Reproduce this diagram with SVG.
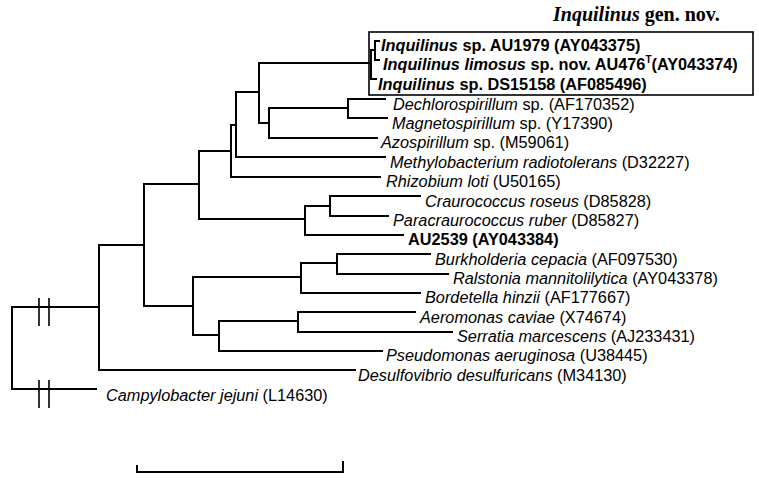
<svg xmlns="http://www.w3.org/2000/svg" width="759" height="483" viewBox="0 0 759 483">
<style>
.br{fill:none;stroke:#000;stroke-width:2;stroke-linecap:square}
.hs{fill:none;stroke:#000;stroke-width:1.6}
.t{font-family:"Liberation Sans",Arial,sans-serif;font-size:16.3px;fill:#000}
.b{font-weight:bold}
.i{font-style:italic}
.ttl{font-family:"Liberation Serif","Times New Roman",serif;font-size:20px;font-weight:bold;fill:#000}
</style>
<rect width="759" height="483" fill="#fff"/>
<g id="title"><text class="ttl" x="553" y="21"><tspan font-style="italic">Inquilinus</tspan> gen. nov.</text></g>
<g id="inquilinus-box"><rect x="369" y="32" width="384" height="63" fill="none" stroke="#000" stroke-width="1.6"/></g>
<g id="connectors">
<path class="br" d="M12,307V389M12,307H99M12,389H96
M99,245V370M99,370H355M99,245H144
M144,184V306M144,184H199M144,306H193
M199,151V219M199,151H231M199,219H305
M231,125V177M231,125H236M231,177H380
M236,92V157M236,92H259M236,157H385
M259,63V123M259,63H371M259,123H269
M269,108V138M269,108H348M269,138H377
M348,99V118M348,99H385M348,118H387
M371,50V79M371,79H376M371,50H375
M375,41V60M375,41H379M375,60H379
M305,206V235M305,206H330M305,235H403
M330,196V216M330,196H420M330,216H388
M193,277V335M193,277H301M193,335H219
M301,263V293M301,263H337M301,293H420
M337,254V274M337,254H430M337,274H448
M219,321V351M219,321H298M219,351H382
M298,312V332M298,312H415M298,332H452"/>
<path class="hs" d="M39,298V326M49,298V326M39,380V408M49,380V408"/>
</g>
<g id="n1"><text class="t b" x="381" y="51"><tspan class="i">Inquilinus</tspan> sp. AU1979 (AY043375)</text></g>
<g id="n2"><text class="t b" x="383" y="70"><tspan class="i">Inquilinus limosus</tspan> sp. nov. AU476<tspan font-size="10" dy="-7">T</tspan><tspan dy="7">(AY043374)</tspan></text></g>
<g id="n3"><text class="t b" x="378" y="90"><tspan class="i">Inquilinus</tspan> sp. DS15158 (AF085496)</text></g>
<g id="n4"><text class="t" x="393" y="110"><tspan class="i">Dechlorospirillum</tspan> sp. (AF170352)</text></g>
<g id="n5"><text class="t" x="392" y="129"><tspan class="i">Magnetospirillum</tspan> sp. (Y17390)</text></g>
<g id="n6"><text class="t" x="381" y="148"><tspan class="i">Azospirillum</tspan> sp. (M59061)</text></g>
<g id="n7"><text class="t" x="390" y="168"><tspan class="i">Methylobacterium radiotolerans</tspan> (D32227)</text></g>
<g id="n8"><text class="t" x="386" y="187"><tspan class="i">Rhizobium loti</tspan> (U50165)</text></g>
<g id="n9"><text class="t" x="425" y="207"><tspan class="i">Craurococcus roseus</tspan> (D85828)</text></g>
<g id="n10"><text class="t" x="393" y="226"><tspan class="i">Paracraurococcus ruber</tspan> (D85827)</text></g>
<g id="n11"><text class="t b" x="408" y="245">AU2539 (AY043384)</text></g>
<g id="n12"><text class="t" x="435" y="265"><tspan class="i">Burkholderia cepacia</tspan> (AF097530)</text></g>
<g id="n13"><text class="t" x="453" y="284"><tspan class="i">Ralstonia mannitolilytica</tspan> (AY043378)</text></g>
<g id="n14"><text class="t" x="425" y="303"><tspan class="i">Bordetella hinzii</tspan> (AF177667)</text></g>
<g id="n15"><text class="t" x="420" y="323"><tspan class="i">Aeromonas caviae</tspan> (X74674)</text></g>
<g id="n16"><text class="t" x="457" y="342"><tspan class="i">Serratia marcescens</tspan> (AJ233431)</text></g>
<g id="n17"><text class="t" x="386" y="361"><tspan class="i">Pseudomonas aeruginosa</tspan> (U38445)</text></g>
<g id="n18"><text class="t" x="358" y="381"><tspan class="i">Desulfovibrio desulfuricans</tspan> (M34130)</text></g>
<g id="n19"><text class="t" x="106" y="401"><tspan class="i">Campylobacter jejuni</tspan> (L14630)</text></g>
<g id="scalebar"><path class="br" d="M137,466V472H343V462"/></g>
</svg>
